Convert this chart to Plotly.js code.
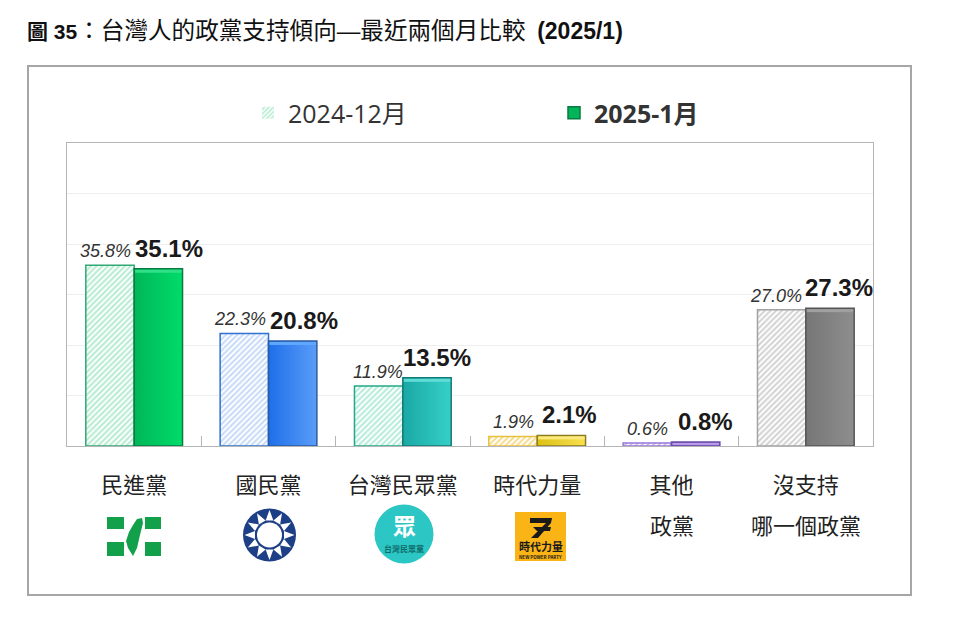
<!DOCTYPE html>
<html>
<head>
<meta charset="utf-8">
<script src="https://cdn.plot.ly/plotly-3.0.1.min.js"></script>
<style>
  html, body { margin: 0; padding: 0; background: #fff; }
  #chart { width: 960px; height: 621px; }
</style>
</head>
<body>
<div id="chart"></div>
<script>
// --- data ---
const categories = ['民進黨', '國民黨', '台灣民眾黨', '時代力量', '其他', '沒支持'];
const secondLine = ['', '', '', '', '政黨', '哪一個政黨'];
const dec2024 = [35.8, 22.3, 11.9, 1.9, 0.6, 27.0];
const jan2025 = [35.1, 20.8, 13.5, 2.1, 0.8, 27.3];
const seriesNames = ['2024-12月', '<b>2025-1月</b>'];
const chartTitle = '<b>圖 35</b><span style="font-size:23.6px">：台灣人的政黨支持傾向—最近兩個月比較</span>  <b><span style="font-size:23px">(2025/1)</span></b>';

// --- colours per party ---
const hatchColors = ['#b4ecd0', '#c6daf7', '#b4ecd8', '#f7dc8c', '#cdbbee', '#d2d2d2'];
const hatchLines = ['#2fa874', '#2f72d2', '#22a888', '#e8c040', '#9678d6', '#a3a3a3'];
const solidColors = ['#00b658', '#1f6fea', '#1aa8a4', '#dcc015', '#8058c4', '#767676'];
const solidLight = ['#00dc6a', '#5a9cf8', '#36d0c8', '#f8e050', '#a888e0', '#8e8e8e'];
const solidTop = ['#30e088', '#60a8ff', '#60dcd4', '#fbe980', '#b89cea', '#a0a0a0'];
const solidDark = ['#0a7a42', '#2a5aa0', '#127a78', '#8a7a20', '#6a4aa8', '#555555'];

// page pixel -> paper coordinates
const M = { l: 67, r: 87, t: 143, b: 175 };
const plotW = 960 - M.l - M.r, plotH = 621 - M.t - M.b;
const px = x => (x - M.l) / plotW;
const py = y => (621 - M.b - y) / plotH;

const FONT = '"Liberation Sans", "Noto Sans CJK TC", sans-serif';
const CJK = '"Noto Sans CJK TC", sans-serif';

const traces = [
  {
    type: 'bar', name: seriesNames[0], x: categories, y: dec2024, hoverinfo: 'none',
    marker: {
      color: '#ffffff',
      line: { color: hatchLines, width: 1.5 },
      pattern: { shape: '/', fgcolor: hatchColors, bgcolor: '#ffffff', size: 4, solidity: 0.5 }
    }
  },
  {
    type: 'bar', name: seriesNames[1], x: categories, y: jan2025, hoverinfo: 'none',
    marker: { color: solidColors, line: { color: solidDark, width: 1.5 } }
  }
];

// value labels sit off centre so the two sizes do not collide
const shift2024 = [-4, -4, -1, 1, 0, -6];
const shift2025 = [11, 11, 10, 8, 10, 9];
const annotations = [];
categories.forEach((c, i) => {
  annotations.push({
    xref: 'x', yref: 'y', x: i - 0.18, y: dec2024[i], yanchor: 'bottom', yshift: 2, xshift: shift2024[i],
    text: dec2024[i].toFixed(1) + '%', showarrow: false,
    font: { family: FONT, size: 18, color: '#333333', style: 'italic' }
  });
  annotations.push({
    xref: 'x', yref: 'y', x: i + 0.18, y: jan2025[i], yanchor: 'bottom', yshift: 5, xshift: shift2025[i],
    text: '<b>' + jan2025[i].toFixed(1) + '%</b>', showarrow: false,
    font: { family: FONT, size: 24, color: '#1a1a1a' }
  });
  if (secondLine[i]) {
    annotations.push({
      xref: 'x', yref: 'paper', x: i, y: py(524), xanchor: 'center', yanchor: 'middle', text: secondLine[i], showarrow: false,
      font: { family: CJK, size: 22, color: '#222222' }
    });
  }
});

// text inside the logos
const logoText = (x, y, text, size, color) => annotations.push({
  xref: 'paper', yref: 'paper', x: px(x), y: py(y), xanchor: 'center', yanchor: 'middle', text: text, showarrow: false,
  font: { family: CJK, size: size, color: color, weight: 700 }
});
logoText(404, 525, '眾', 23, '#ffffff');
logoText(404, 548, '台灣民眾黨', 8, '#0c6a68');
logoText(540.5, 546, '時代力量', 11, '#1a1a1a');
logoText(540.5, 556.5, 'NEW POWER PARTY', 4.5, '#1a1a1a');

// outer frame and party logos are decoration, drawn in page pixels
const rectShape = (x0, y0, x1, y1, fill, line) => ({
  type: 'rect', xref: 'paper', yref: 'paper', x0: px(x0), x1: px(x1), y0: py(y0), y1: py(y1),
  fillcolor: fill, line: line || { width: 0 }, layer: 'below'
});
const circleShape = (cx, cy, r, fill) => ({
  type: 'circle', xref: 'paper', yref: 'paper', x0: px(cx - r), x1: px(cx + r), y0: py(cy + r), y1: py(cy - r),
  fillcolor: fill, line: { width: 0 }
});
const polyShape = (pts, fill) => ({
  type: 'path', xref: 'paper', yref: 'paper', fillcolor: fill, line: { width: 0 },
  path: 'M' + pts.map(p => px(p[0]) + ',' + py(p[1])).join('L') + 'Z'
});

const shapes = [
  rectShape(28, 66, 911, 595, 'rgba(0,0,0,0)', { color: '#a6a6a6', width: 2 }),
  // 民進黨
  rectShape(107, 517, 124, 529, '#12a14a'), rectShape(145, 517, 161, 529, '#12a14a'),
  rectShape(107, 542, 124, 556, '#12a14a'), rectShape(145, 542, 161, 556, '#12a14a'),
  polyShape([[137, 519], [142, 518], [143, 523], [140, 535], [137, 548], [133, 556], [128, 548], [126, 541], [129, 532], [133, 525]], '#12a14a'),
  // 國民黨
  circleShape(269.5, 535, 26.5, '#1d3f86'),
  // 台灣民眾黨
  circleShape(404, 534, 29.5, '#2cc6c4'),
  // 時代力量
  { type: 'rect', xref: 'paper', yref: 'paper', x0: px(515), x1: px(566), y0: py(561), y1: py(512), fillcolor: '#fbb416', line: { width: 0 } },
  polyShape([[530, 518], [552, 518], [551, 523], [530, 523]], '#1a1a1a'),
  polyShape([[546, 523], [551, 523], [538, 538], [531, 538]], '#1a1a1a'),
  polyShape([[533, 527], [551, 527], [550, 531], [537, 531]], '#1a1a1a')
];
// 國民黨 white sun with twelve rays
for (let k = 0; k < 12; k++) {
  const a = k * Math.PI / 6, d = Math.PI / 12;
  shapes.push(polyShape([
    [269.5 + 25 * Math.sin(a), 535 - 25 * Math.cos(a)],
    [269.5 + 15 * Math.sin(a - d), 535 - 15 * Math.cos(a - d)],
    [269.5 + 15 * Math.sin(a + d), 535 - 15 * Math.cos(a + d)]
  ], '#ffffff'));
}
shapes.push(circleShape(269.5, 535, 12.5, '#ffffff'));

const layout = {
  width: 960, height: 621,
  margin: M,
  paper_bgcolor: '#ffffff', plot_bgcolor: '#ffffff',
  font: { family: FONT },
  title: {
    text: chartTitle, xref: 'container', yref: 'container', x: 27 / 960, xanchor: 'left', y: 1 - 32 / 621, yanchor: 'middle',
    font: { family: FONT, size: 21, color: '#111111' }
  },
  barmode: 'group', bargap: 0.28, bargroupgap: 0,
  showlegend: true,
  legend: {
    orientation: 'h', xref: 'paper', yref: 'paper', x: px(248), xanchor: 'left', y: py(113), yanchor: 'middle',
    entrywidth: 261, entrywidthmode: 'pixels', itemclick: false, itemdoubleclick: false,
    font: { family: '"Open Sans", "Noto Sans CJK TC", sans-serif', size: 25, color: '#333333' }
  },
  xaxis: {
    type: 'category', categoryarray: categories, range: [-0.5, 5.5], tickson: 'boundaries',
    ticks: 'inside', ticklen: 10, tickcolor: '#b5b5b5', tickwidth: 1,
    showline: true, linecolor: '#b5b5b5', linewidth: 1, mirror: true,
    tickfont: { family: CJK, size: 22, color: '#222222' }, ticklabelstandoff: 20, fixedrange: true
  },
  yaxis: {
    range: [0, 60], dtick: 10, showticklabels: false, ticks: '',
    showline: true, linecolor: '#b5b5b5', linewidth: 1, mirror: true,
    showgrid: true, gridcolor: '#eeeeee', gridwidth: 1, zeroline: false, fixedrange: true
  },
  annotations: annotations,
  shapes: shapes
};

const plotDiv = document.getElementById('chart');
Plotly.newPlot(plotDiv, traces, layout, { displayModeBar: false, responsive: false }).then(() => {
  // Plotly bars have no gradient fill, so the shaded look of the second series is added here
  const svg = plotDiv.querySelector('.main-svg');
  const defs = svg.querySelector('defs');
  const NS = 'http://www.w3.org/2000/svg';
  solidColors.forEach((c, i) => {
    const g = document.createElementNS(NS, 'linearGradient');
    g.setAttribute('id', 'solid-grad-' + i);
    [[0, c], [1, solidLight[i]]].forEach(s => {
      const stop = document.createElementNS(NS, 'stop');
      stop.setAttribute('offset', s[0]);
      stop.setAttribute('stop-color', s[1]);
      g.appendChild(stop);
    });
    defs.appendChild(g);
  });
  const groups = plotDiv.querySelectorAll('.barlayer .trace');
  groups[1].querySelectorAll('.point path').forEach((p, i) => {
    p.style.fill = 'url(#solid-grad-' + i + ')';
    // light band along the top edge
    const box = p.getBBox();
    const band = document.createElementNS(NS, 'rect');
    band.setAttribute('x', box.x + 1);
    band.setAttribute('y', box.y + 1);
    band.setAttribute('width', Math.max(box.width - 2, 0));
    band.setAttribute('height', Math.min(3, Math.max(box.height - 2, 0)));
    band.setAttribute('fill', solidTop[i]);
    p.parentNode.appendChild(band);
  });
  // the hatched legend swatch has no outline in the original
  plotDiv.querySelectorAll('.legend .traces')[0].querySelectorAll('path').forEach(p => { p.style.strokeWidth = '0px'; });
});
</script>
</body>
</html>
